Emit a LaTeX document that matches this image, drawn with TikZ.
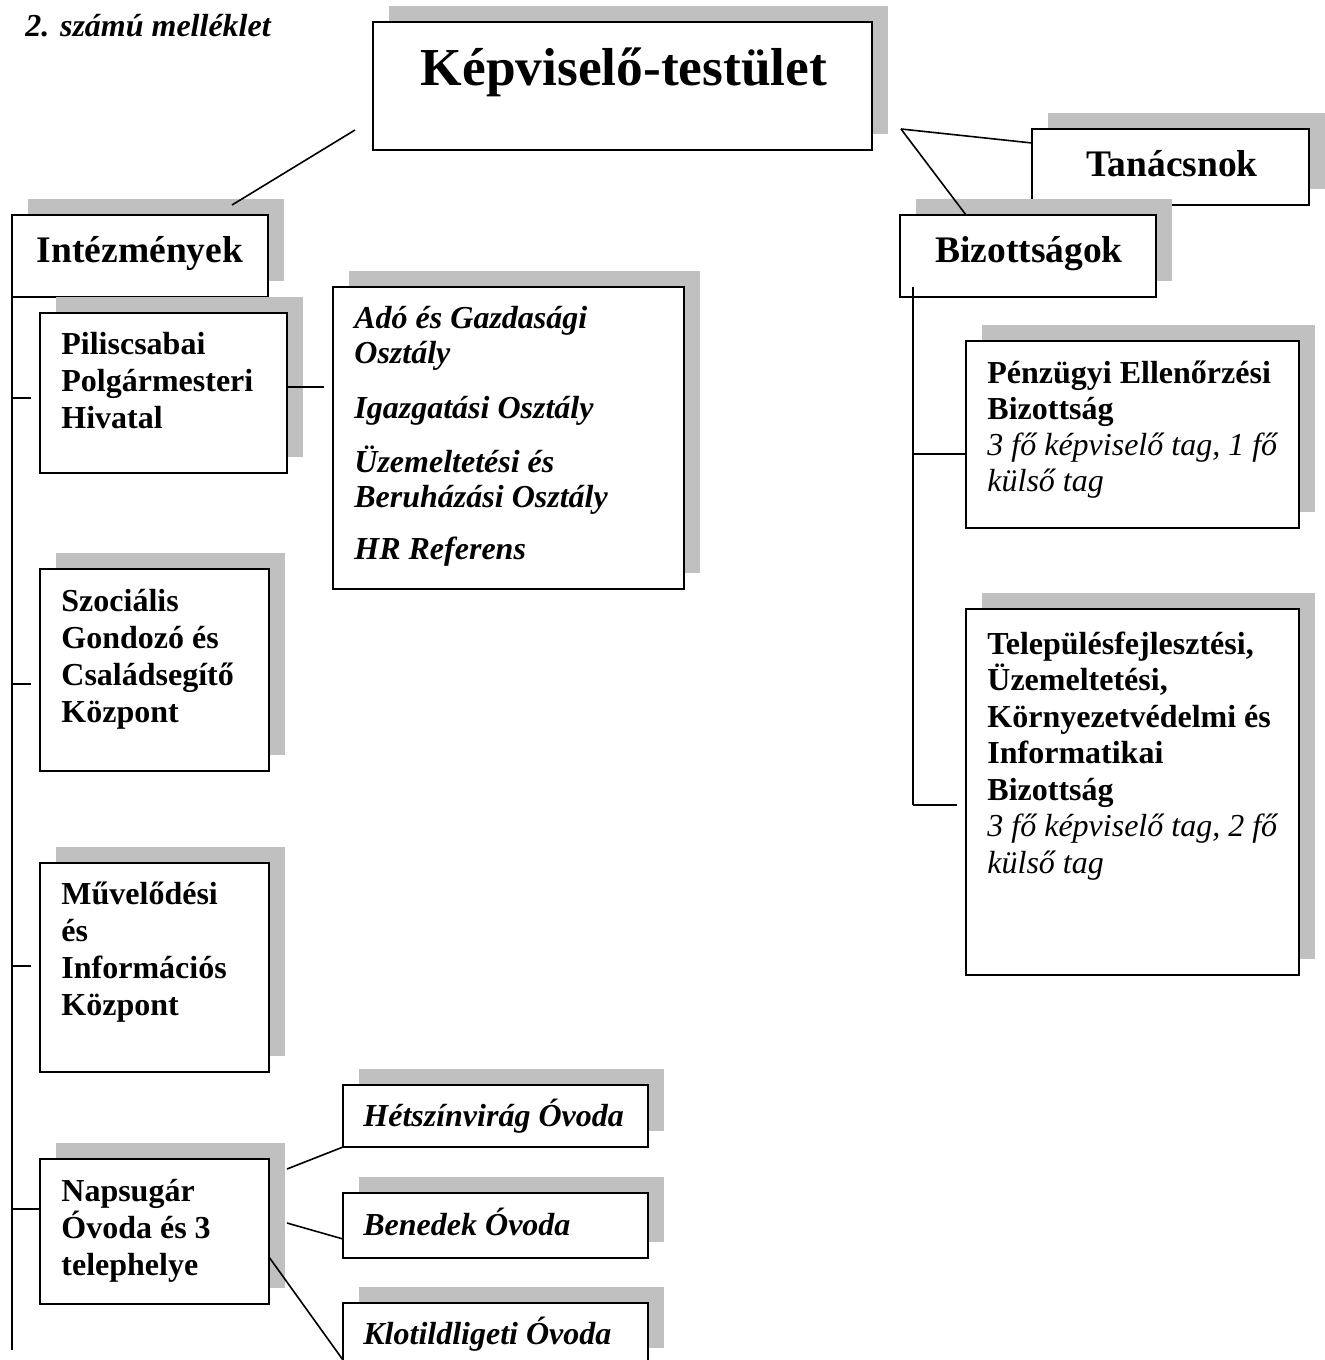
\documentclass[tikz,border=0pt]{standalone}
\usepackage{fontspec}
\setmainfont{Liberation Serif}
\usetikzlibrary{shadows,fit,calc}
\definecolor{shadegray}{RGB}{192,192,192}
\begin{document}
\begin{tikzpicture}[x=0.5pt,y=-0.5pt,
  orgbox/.style={draw, line width=1pt, fill=white, inner sep=0pt, outer sep=0pt,
    general shadow={fill=shadegray, shadow xshift=8pt, shadow yshift=8pt}},
  link/.style={line width=0.8pt},
  txt/.style={inner sep=0pt},
  bodyfont/.style={font=\fontsize{16}{18.5}\selectfont},
  headfont/.style={font=\bfseries\fontsize{18.75}{21}\selectfont},
]
\useasboundingbox (0,0) rectangle (1324,1360);

% caption
\node[txt, anchor=base west, font=\bfseries\itshape\fontsize{16}{18}\selectfont] (mel) at (25,36) {2. számú melléklet};

% boxes
\node[orgbox, fit={(373,22) (872,150)}] (kep) {};
\node[orgbox, fit={(1032,129) (1309,205)}] (tan) {};
\node[orgbox, fit={(12,215) (268,297)}] (int) {};
\node[orgbox, fit={(900,215) (1156,297)}] (biz) {};
\node[orgbox, fit={(40,313) (287,473)}] (pil) {};
\node[orgbox, fit={(333,287) (684,589)}] (ado) {};
\node[orgbox, fit={(40,569) (269,771)}] (szoc) {};
\node[orgbox, fit={(40,863) (269,1072)}] (muv) {};
\node[orgbox, fit={(40,1159) (269,1304)}] (nap) {};
\node[orgbox, fit={(343,1085) (648,1147)}] (het) {};
\node[orgbox, fit={(343,1193) (648,1258)}] (ben) {};
\node[orgbox, fit={(343,1303) (648,1364)}] (klo) {};
\node[orgbox, fit={(966,341) (1299,528)}] (pen) {};
\node[orgbox, fit={(966,609) (1299,975)}] (tel) {};

% texts
\node[txt, anchor=base, font=\bfseries\fontsize{26.7}{30}\selectfont] (kep-t) at (624,85) {Képviselő-testület};
\node[txt, anchor=base, headfont] (tan-t) at (1172,176) {Tanácsnok};
\node[txt, anchor=base, headfont] (int-t) at (140,262) {Intézmények};
\node[txt, anchor=base, headfont] (biz-t) at (1029,262) {Bizottságok};

\node[txt, anchor=base west, bodyfont] (pil-t) at (61,354)
  {\parbox[t]{300pt}{\bfseries Piliscsabai\\Polgármesteri\\Hivatal}};
\node[txt, anchor=base west, font=\fontsize{16}{17.5}\selectfont] (ado-t) at (354,328)
  {\parbox[t]{300pt}{\bfseries\itshape Adó és Gazdasági\\Osztály\\[10pt]Igazgatási Osztály\\[9.5pt]Üzemeltetési és\\Beruházási Osztály\\[8.5pt]HR Referens}};
\node[txt, anchor=base west, bodyfont] (szoc-t) at (61,611)
  {\parbox[t]{300pt}{\bfseries Szociális\\Gondozó és\\Családsegítő\\Központ}};
\node[txt, anchor=base west, bodyfont] (muv-t) at (61,904)
  {\parbox[t]{300pt}{\bfseries Művelődési\\és\\Információs\\Központ}};
\node[txt, anchor=base west, bodyfont] (nap-t) at (61,1201)
  {\parbox[t]{300pt}{\bfseries Napsugár\\Óvoda és 3\\telephelye}};
\node[txt, anchor=base west, font=\bfseries\itshape\fontsize{16}{18}\selectfont] (het-t) at (363,1126) {Hétszínvirág Óvoda};
\node[txt, anchor=base west, font=\bfseries\itshape\fontsize{16}{18}\selectfont] (ben-t) at (363,1235) {Benedek Óvoda};
\node[txt, anchor=base west, font=\bfseries\itshape\fontsize{16}{18}\selectfont] (klo-t) at (363,1344) {Klotildligeti Óvoda};
\node[txt, anchor=base west, font=\fontsize{16}{18}\selectfont] (pen-t) at (987,383)
  {\parbox[t]{300pt}{\textbf{Pénzügyi Ellenőrzési}\\\textbf{Bizottság}\\\textit{3 fő képviselő tag, 1 fő}\\\textit{külső tag}}};
\node[txt, anchor=base west, font=\fontsize{16}{18.25}\selectfont] (tel-t) at (987,654)
  {\parbox[t]{300pt}{\textbf{Településfejlesztési,}\\\textbf{Üzemeltetési,}\\\textbf{Környezetvédelmi és}\\\textbf{Informatikai}\\\textbf{Bizottság}\\\textit{3 fő képviselő tag, 2 fő}\\\textit{külső tag}}};

% free connector ends and branch points
\coordinate (kl) at (355,130);
\coordinate (intop) at (232,205);
\coordinate (kr) at (901,129);
\coordinate (tanin) at (1032,143);
\coordinate (bizin) at (966,215);
\coordinate (trunkLtop) at (12,297);
\coordinate (trunkL) at (12,1350);
\coordinate (aL1) at (12,398);  \coordinate (bL1) at (31,398);
\coordinate (aL2) at (12,684);  \coordinate (bL2) at (31,684);
\coordinate (aL3) at (12,966);  \coordinate (bL3) at (31,966);
\coordinate (aL4) at (12,1209); \coordinate (bL4) at (40,1209);
\coordinate (pill) at (287,387);
\coordinate (pilr) at (324,387);
\coordinate (trunkRtop) at (913,287);
\coordinate (aR1) at (913,454); \coordinate (bR1) at (966,454);
\coordinate (trunkR) at (913,805);
\coordinate (bR2) at (957,805);
\coordinate (n1) at (287,1169);
\coordinate (n2) at (287,1223);
\coordinate (benin) at (343,1239);
\coordinate (n3) at (269,1257);
\coordinate (klobot) at (343,1360);

% connectors
\draw[link] (kl) -- (intop);
\draw[link] (kr) -- (tanin);
\draw[link] (kr) -- (bizin);
\draw[link] (trunkLtop) -- (trunkL);
\draw[link] (aL1) -- (bL1);
\draw[link] (aL2) -- (bL2);
\draw[link] (aL3) -- (bL3);
\draw[link] (aL4) -- (bL4);
\draw[link] (pill) -- (pilr);
\draw[link] (n1) -- (het.south west);
\draw[link] (n2) -- (benin);
\draw[link] (n3) -- (klobot);
\draw[link] (trunkRtop) -- (trunkR);
\draw[link] (aR1) -- (bR1);
\draw[link] (trunkR) -- (bR2);
\end{tikzpicture}
\end{document}
